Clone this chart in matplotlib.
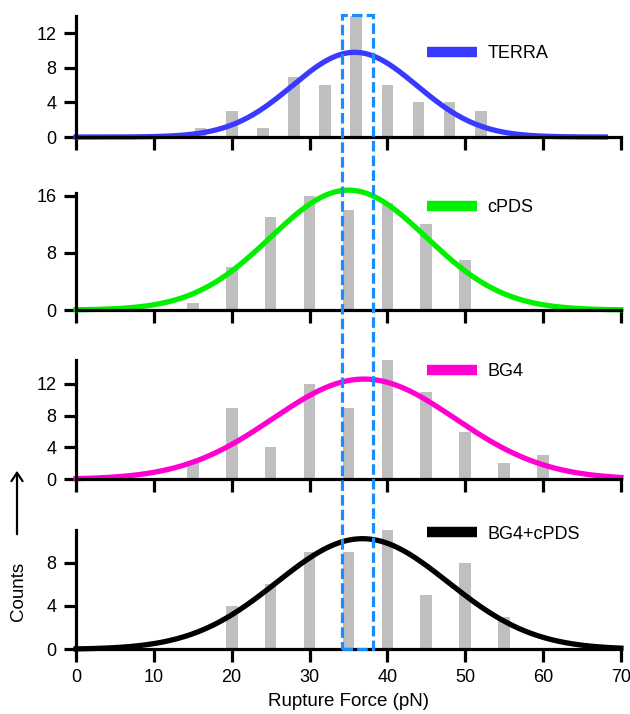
import numpy as np
import matplotlib; matplotlib.use("Agg")
import matplotlib.pyplot as plt
from matplotlib.lines import Line2D
from matplotlib.patches import Rectangle, FancyArrowPatch
from matplotlib.transforms import blended_transform_factory

plt.rcParams['font.family'] = ['Liberation Sans', 'DejaVu Sans']

# histogram data (bin centre in pN -> counts)
terra_x = [16, 20, 24, 28, 32, 36, 40, 44, 48, 52]
terra_n = [1, 3, 1, 7, 6, 14, 6, 4, 4, 3]
cpds_x = [15, 20, 25, 30, 35, 40, 45, 50]
cpds_n = [1, 6, 13, 16, 14, 15, 12, 7]
bg4_x = [15, 20, 25, 30, 35, 40, 45, 50, 55, 60]
bg4_n = [2, 9, 4, 12, 9, 15, 11, 6, 2, 3]
bg4cpds_x = [20, 25, 30, 35, 40, 45, 50, 55]
bg4cpds_n = [4, 6, 9, 9, 11, 5, 8, 3]

# gaussian fits: amplitude, centre, sigma, x extent
terra_fit = [9.8, 35.8, 8.0, 68]
cpds_fit = [16.8, 35.0, 10.0, 70]
bg4_fit = [12.6, 37.0, 11.7, 70]
bg4cpds_fit = [10.2, 36.8, 11.0, 70]

names = ['TERRA', 'cPDS', 'BG4', 'BG4+cPDS']
colors = ['#3a3aff', '#00f000', '#ff00d0', '#000000']
yticks = [[0, 4, 8, 12], [0, 8, 16], [0, 4, 8, 12], [0, 4, 8]]
ytops = [14.0, 16.4, 15.0, 11.0]
box = [34.2, 38.2]   # highlighted force window (pN)

panels = [(terra_x, terra_n, terra_fit), (cpds_x, cpds_n, cpds_fit),
          (bg4_x, bg4_n, bg4_fit), (bg4cpds_x, bg4cpds_n, bg4cpds_fit)]
# axes rectangles in figure fraction
rects = [(0.1206, 0.8081, 0.865, 0.1695), (0.1206, 0.5658, 0.865, 0.1639),
         (0.1206, 0.3287, 0.865, 0.1671), (0.1206, 0.0906, 0.865, 0.1671)]
leg_y = [0.686, 0.872, 0.90, 0.964]

fig = plt.figure(figsize=(6.3, 7.14), dpi=100)
axes = []
for i, ((bx, bn, fit), r) in enumerate(zip(panels, rects)):
    ax = fig.add_axes(r)
    ax.bar(bx, bn, width=1.5, color='#bfbfbf', zorder=1)
    A, mu, sd, xe = fit
    xs = np.linspace(0, xe, 400)
    ax.plot(xs, A*np.exp(-(xs-mu)**2/(2*sd**2)), color=colors[i], lw=3.8, zorder=2, clip_on=False)
    ax.set_xlim(0, 70); ax.set_ylim(0, ytops[i])
    ax.set_xticks(range(0, 71, 10)); ax.set_yticks(yticks[i])
    for s in ['top', 'right']: ax.spines[s].set_visible(False)
    for s in ['left', 'bottom']: ax.spines[s].set_linewidth(2.3)
    ax.tick_params(length=9, width=2.3, labelsize=13, pad=5)
    if i < 3: ax.tick_params(axis='x', labelbottom=False)
    ax.legend(handles=[Line2D([], [], color=colors[i], lw=7.5, solid_capstyle='butt')], labels=[names[i]],
              loc='center left', bbox_to_anchor=(0.644, leg_y[i]), frameon=False, fontsize=13,
              handlelength=2.75, handletextpad=0.6, borderpad=0, borderaxespad=0)
    axes.append(ax)

axes[-1].set_xlabel('Rupture Force (pN)', fontsize=13.5, labelpad=5)

# dashed window spanning all panels
tr = blended_transform_factory(axes[-1].transData, fig.transFigure)
fig.add_artist(Rectangle((box[0], 0.0906), box[1]-box[0], 0.979-0.0906, transform=tr, fill=False,
                         ec='#1a8cff', lw=2.3, ls=(0, (3.3, 1.3)), zorder=5))

fig.text(0.029, 0.172, 'Counts', rotation=90, ha='center', va='center', fontsize=13.5)
fig.add_artist(FancyArrowPatch((0.027, 1-537/714), (0.027, 1-468/714), transform=fig.transFigure,
                               arrowstyle='->,head_length=6,head_width=4', lw=1.6, color='black'))

fig.savefig('out.png', dpi=100)
